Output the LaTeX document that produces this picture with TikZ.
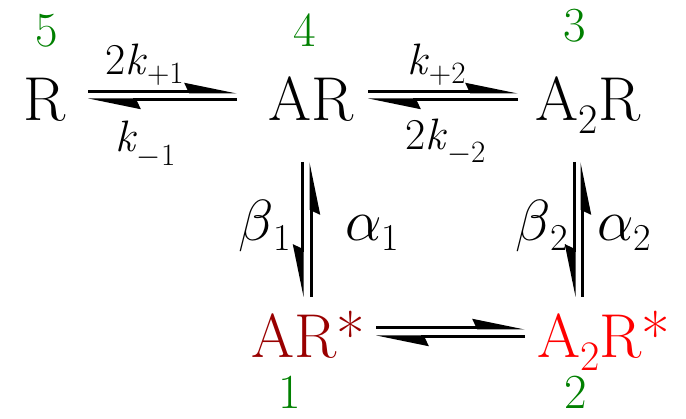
\RequirePackage{fix-cm}
\documentclass[tikz,border=0pt]{standalone}
\usepackage{fontspec}
\usetikzlibrary{arrows.meta}
\definecolor{grn}{RGB}{0,128,0}
\definecolor{dred}{RGB}{153,0,0}
\definecolor{bred}{RGB}{255,0,0}
\newcommand\bigsz{\rmfamily\fontsize{62}{70}\selectfont}
\newcommand\numsz{\rmfamily\fontsize{49}{56}\selectfont}
\newcommand\labsz{\rmfamily\fontsize{44}{50}\selectfont}
\newcommand\grsz{\rmfamily\fontsize{58}{62}\selectfont}
\newcommand\lowered[3]{\raisebox{-#1}{\rmfamily\fontsize{#2}{#2}\selectfont #3}}
\tikzset{
  species/.style={inner sep=0pt, anchor=base, font=\bigsz},
  num/.style={inner sep=0pt, anchor=base, font=\numsz, text=grn},
  lab/.style={inner sep=0pt, font=\labsz},
  glab/.style={inner sep=0pt, font=\grsz},
  harpL/.style={line width=3pt, -{Stealth[harpoon, length=45pt, width=18pt, inset=4pt]}},
  harpR/.style={line width=3pt, -{Stealth[harpoon, swap, length=45pt, width=18pt, inset=4pt]}},
}
\begin{document}
\begin{tikzpicture}[x=1pt,y=1pt]
\useasboundingbox (0,0) rectangle (686,419);
% species
\node[species] (R) at (44.5,298) {R};
\node[species] (AR) at (311,298) {AR};
\node[species] (A2R) at (588,298) {A\lowered{13pt}{42}{2}R};
\node[species, text=dred] (ARs) at (308,61) {AR*};
\node[species, text=bred] (A2Rs) at (604,61) {A\lowered{13pt}{42}{2}R*};
% numbers
\node[num] (n5) at (47,372) {5};
\node[num] (n4) at (305,372) {4};
\node[num] (n3) at (575,377) {3};
\node[num] (n1) at (290,10) {1};
\node[num] (n2) at (576,10) {2};
% arrow end points
\coordinate (a1l) at (88,327);  \coordinate (a1r) at (237,327);
\coordinate (b1l) at (88,319);  \coordinate (b1r) at (237,319);
\coordinate (a2l) at (368,327); \coordinate (a2r) at (518,327);
\coordinate (b2l) at (368,319); \coordinate (b2r) at (518,319);
\coordinate (a3l) at (376,91);  \coordinate (a3r) at (525,91);
\coordinate (b3l) at (376,82);  \coordinate (b3r) at (525,82);
\coordinate (v1lt) at (302,257); \coordinate (v1lb) at (302,122);
\coordinate (v1rt) at (311,257); \coordinate (v1rb) at (311,122);
\coordinate (v2lt) at (574,257); \coordinate (v2lb) at (574,122);
\coordinate (v2rt) at (582,257); \coordinate (v2rb) at (582,122);
% arrows
\draw[harpL] (a1l) -- (a1r);
\draw[harpL] (b1r) -- (b1l);
\draw[harpL] (a2l) -- (a2r);
\draw[harpL] (b2r) -- (b2l);
\draw[harpL] (a3l) -- (a3r);
\draw[harpL] (b3r) -- (b3l);
\draw[harpR] (v1lt) -- (v1lb);
\draw[harpR] (v1rb) -- (v1rt);
\draw[harpR] (v2lt) -- (v2lb);
\draw[harpR] (v2rb) -- (v2rt);
% rate labels
\node[lab, anchor=base west] (k1) at (105,344) {2\textit{k}\lowered{9pt}{31}{+1}};
\node[lab, anchor=base west] (km1) at (115,267) {\textit{k}\lowered{14pt}{31}{$-$1}};
\node[lab, anchor=base west] (k2) at (407,344) {\textit{k}\lowered{9pt}{31}{+2}};
\node[lab, anchor=base west] (km2) at (405,269) {2\textit{k}\lowered{13pt}{31}{$-$2}};
\node[glab, anchor=base east] (b1) at (291,178) {$\beta$\lowered{10pt}{38}{1}};
\node[glab, anchor=base west] (al1) at (345,178) {$\alpha$\lowered{10pt}{38}{1}};
\node[glab, anchor=base east] (b2) at (568,178) {$\beta$\lowered{10pt}{38}{2}};
\node[glab, anchor=base west] (al2) at (597,178) {$\alpha$\lowered{10pt}{38}{2}};
\end{tikzpicture}
\end{document}
